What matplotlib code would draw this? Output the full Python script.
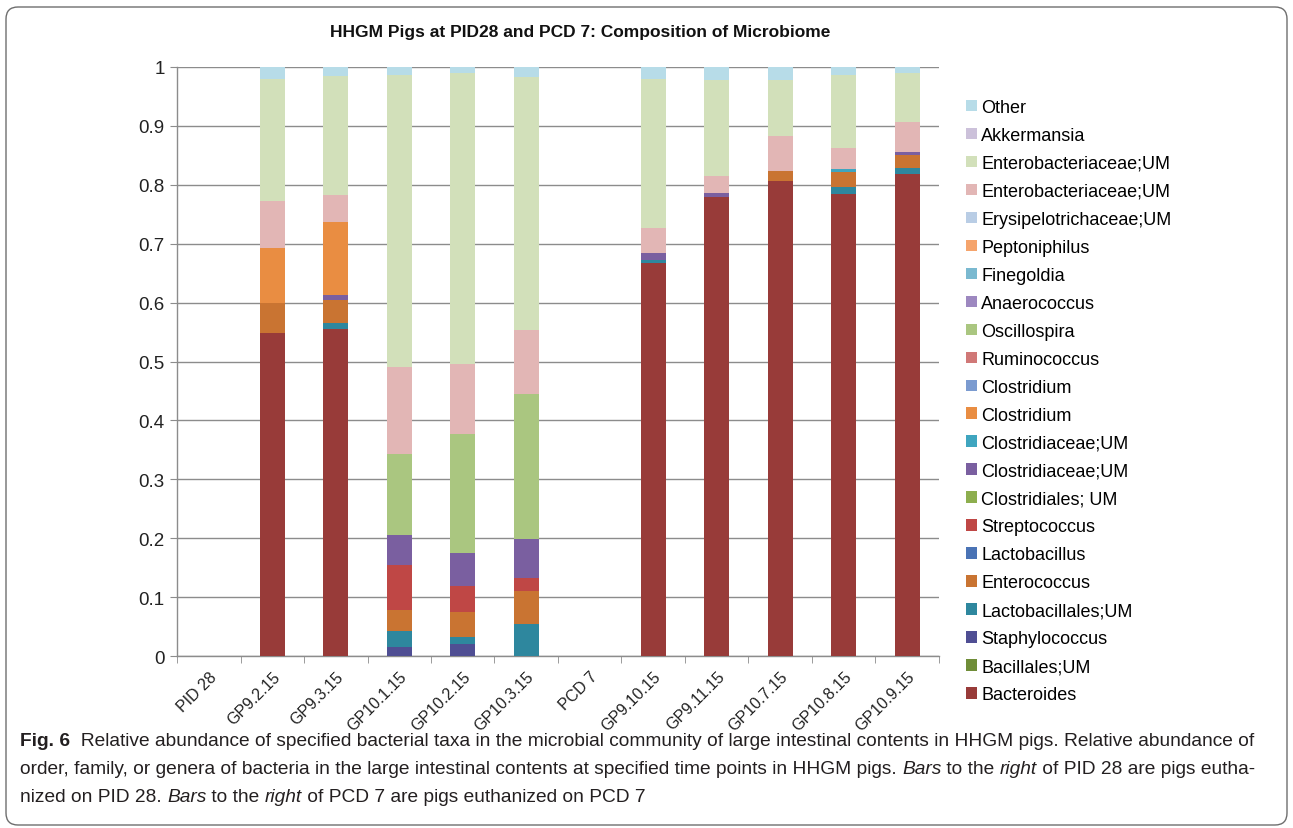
import numpy as np
import matplotlib
matplotlib.use("Agg")
import matplotlib.pyplot as plt
from matplotlib.patches import FancyBboxPatch, Patch
from matplotlib.transforms import IdentityTransform

# ── Data: relative abundance per sample, stacked bottom → top ────────────────
samples = ["PID 28", "GP9.2.15", "GP9.3.15", "GP10.1.15", "GP10.2.15", "GP10.3.15",
           "PCD 7", "GP9.10.15", "GP9.11.15", "GP10.7.15", "GP10.8.15", "GP10.9.15"]

bacteroides       = [0, .548, .555, 0,    0,    0,    0, .667, .780, .806, .784, .819]
bacillales_um     = [0, 0,    0,    0,    0,    0,    0, 0,    0,    0,    0,    0]
staphylococcus    = [0, 0,    0,    .015, .021, 0,    0, 0,    0,    0,    0,    0]
lactobacillales   = [0, 0,    .010, .027, .012, .055, 0, .005, 0,    0,    .013, .010]
enterococcus      = [0, .052, .039, .036, .042, .056, 0, 0,    0,    .017, .024, .021]
lactobacillus     = [0, 0,    0,    0,    0,    0,    0, 0,    0,    0,    0,    0]
streptococcus     = [0, 0,    0,    .076, .043, .021, 0, 0,    0,    0,    0,    0]
clostridiales_um  = [0, 0,    0,    0,    0,    0,    0, 0,    0,    0,    0,    0]
clostridiaceae_a  = [0, 0,    .009, .052, .057, .067, 0, .012, .006, 0,    0,    .005]
clostridiaceae_b  = [0, 0,    0,    0,    0,    0,    0, 0,    0,    0,    .006, 0]
clostridium_a     = [0, .092, .124, 0,    0,    0,    0, 0,    0,    0,    0,    0]
clostridium_b     = [0, 0,    0,    0,    0,    0,    0, 0,    0,    0,    0,    0]
ruminococcus      = [0, 0,    0,    0,    0,    0,    0, 0,    0,    0,    0,    0]
oscillospira      = [0, 0,    0,    .137, .202, .245, 0, 0,    0,    0,    0,    0]
anaerococcus      = [0, 0,    0,    0,    0,    0,    0, 0,    0,    0,    0,    0]
finegoldia        = [0, 0,    0,    0,    0,    0,    0, 0,    0,    0,    0,    0]
peptoniphilus     = [0, 0,    0,    0,    0,    0,    0, 0,    0,    0,    0,    0]
erysipelo_um      = [0, 0,    0,    0,    0,    0,    0, 0,    0,    0,    0,    0]
enterobact_a      = [0, .080, .046, .147, .119, .109, 0, .043, .029, .060, .035, .052]
enterobact_b      = [0, .208, .202, .497, .493, .430, 0, .253, .163, .095, .125, .083]
akkermansia       = [0, 0,    0,    0,    0,    0,    0, 0,    0,    0,    0,    0]
other             = [0, .020, .015, .013, .011, .017, 0, .020, .022, .022, .013, .010]

taxa = [
    ("Bacteroides",            bacteroides,      "#983B39"),
    ("Bacillales;UM",          bacillales_um,    "#6F8D38"),
    ("Staphylococcus",         staphylococcus,   "#4F4E93"),
    ("Lactobacillales;UM",     lactobacillales,  "#2E879E"),
    ("Enterococcus",           enterococcus,     "#C97432"),
    ("Lactobacillus",          lactobacillus,    "#4A73B5"),
    ("Streptococcus",          streptococcus,    "#BF4745"),
    ("Clostridiales; UM",      clostridiales_um, "#8DAE4E"),
    ("Clostridiaceae;UM",      clostridiaceae_a, "#7A5FA0"),
    ("Clostridiaceae;UM",      clostridiaceae_b, "#3FA5BF"),
    ("Clostridium",            clostridium_a,    "#E98D42"),
    ("Clostridium",            clostridium_b,    "#7B9BD0"),
    ("Ruminococcus",           ruminococcus,     "#D07877"),
    ("Oscillospira",           oscillospira,     "#AAC680"),
    ("Anaerococcus",           anaerococcus,     "#9D88C0"),
    ("Finegoldia",             finegoldia,       "#7AB9D0"),
    ("Peptoniphilus",          peptoniphilus,    "#F5A46C"),
    ("Erysipelotrichaceae;UM", erysipelo_um,     "#B9CDE5"),
    ("Enterobacteriaceae;UM",  enterobact_a,     "#E2B6B5"),
    ("Enterobacteriaceae;UM",  enterobact_b,     "#D2E0BA"),
    ("Akkermansia",            akkermansia,      "#CCC1DA"),
    ("Other",                  other,            "#B7DCE8"),
]

yticks = np.round(np.arange(0, 1.01, 0.1), 1)
ytick_labels = ["0", "0.1", "0.2", "0.3", "0.4", "0.5", "0.6", "0.7", "0.8", "0.9", "1"]

title = "HHGM Pigs at PID28 and PCD 7: Composition of Microbiome"

CHART_FONT = ["Liberation Sans", "DejaVu Sans"]
CAP_FONT = ["Liberation Sans", "DejaVu Sans"]

# ── Figure ───────────────────────────────────────────────────────────────────
W, H = 1293, 829
fig = plt.figure(figsize=(W / 100, H / 100), dpi=100)
fig.patch.set_facecolor("white")

ax = fig.add_axes([177 / W, 1 - 657 / H, (939 - 177) / W, (657 - 68) / H])

x = np.arange(len(samples))
bottom = np.zeros(len(samples))
handles = []
for name, vals, color in taxa:
    vals = np.asarray(vals, dtype=float)
    ax.bar(x, vals, width=0.4, bottom=bottom, color=color, edgecolor="none", zorder=3)
    bottom += vals
    handles.append(Patch(facecolor=color, edgecolor="none", label=name))

ax.set_xlim(-0.5, len(samples) - 0.5)
ax.set_ylim(0, 1)
ax.set_yticks(yticks)
ax.set_yticklabels(ytick_labels, fontsize=13.5, family=CHART_FONT, color="#222222")
ax.yaxis.grid(True, color="#8C8C8C", linewidth=1.0, zorder=0)
ax.set_axisbelow(True)

# category labels at bar centres, tick marks between the categories
ax.set_xticks(x)
ax.set_xticklabels(samples, rotation=45, ha="right", va="top", rotation_mode="anchor",
                   fontsize=11.5, family=CHART_FONT, color="#222222")
ax.set_xticks(np.arange(-0.5, len(samples) - 0.4, 1), minor=True)
ax.tick_params(axis="x", which="major", length=0, pad=9)
ax.tick_params(axis="x", which="minor", length=5, color="#8C8C8C", direction="out")
ax.tick_params(axis="y", length=5, color="#8C8C8C", direction="out", pad=4)

for side in ("top", "right"):
    ax.spines[side].set_visible(False)
for side in ("left", "bottom"):
    ax.spines[side].set_color("#8C8C8C")
    ax.spines[side].set_linewidth(1.0)

fig.text(580 / W, 1 - 33 / H, title, ha="center", va="center", fontsize=12.5,
         fontweight="bold", family=CHART_FONT, color="#111111")

fig.legend(handles=handles[::-1], loc="upper left", bbox_to_anchor=(966 / W, 1 - 100 / H),
           frameon=False, prop={"family": CHART_FONT, "size": 13},
           handlelength=0.6, handleheight=0.6, handletextpad=0.25,
           labelspacing=0.607, borderpad=0, borderaxespad=0)

# ── Rounded frame around figure + caption ────────────────────────────────────
frame = FancyBboxPatch((6, 3), 1281, 818, boxstyle="round,pad=0,rounding_size=12",
                       transform=IdentityTransform(), facecolor="none",
                       edgecolor="#6E6E6E", linewidth=1.0)
fig.patches.append(frame)

cap_lines = [
    [("Fig. 6", "normal", "bold"),
     ("  Relative abundance of specified bacterial taxa in the microbial community of large "
      "intestinal contents in HHGM pigs. Relative abundance of", "normal", "normal")],
    [("order, family, or genera of bacteria in the large intestinal contents at specified "
      "time points in HHGM pigs. ", "normal", "normal"),
     ("Bars", "italic", "normal"), (" to the ", "normal", "normal"),
     ("right", "italic", "normal"), (" of PID 28 are pigs eutha-", "normal", "normal")],
    [("nized on PID 28. ", "normal", "normal"), ("Bars", "italic", "normal"),
     (" to the ", "normal", "normal"), ("right", "italic", "normal"),
     (" of PCD 7 are pigs euthanized on PCD 7", "normal", "normal")],
]
baselines = [746, 774, 802]

renderer = fig.canvas.get_renderer()
for pieces, yb in zip(cap_lines, baselines):
    xp = 20
    for s, style, weight in pieces:
        t = fig.text(xp / W, 1 - yb / H, s, ha="left", va="baseline", fontsize=13.8,
                     style=style, fontweight=weight, family=CAP_FONT, color="#231F20")
        xp += t.get_window_extent(renderer).width

fig.savefig("out.png", dpi=100)
plt.close(fig)
